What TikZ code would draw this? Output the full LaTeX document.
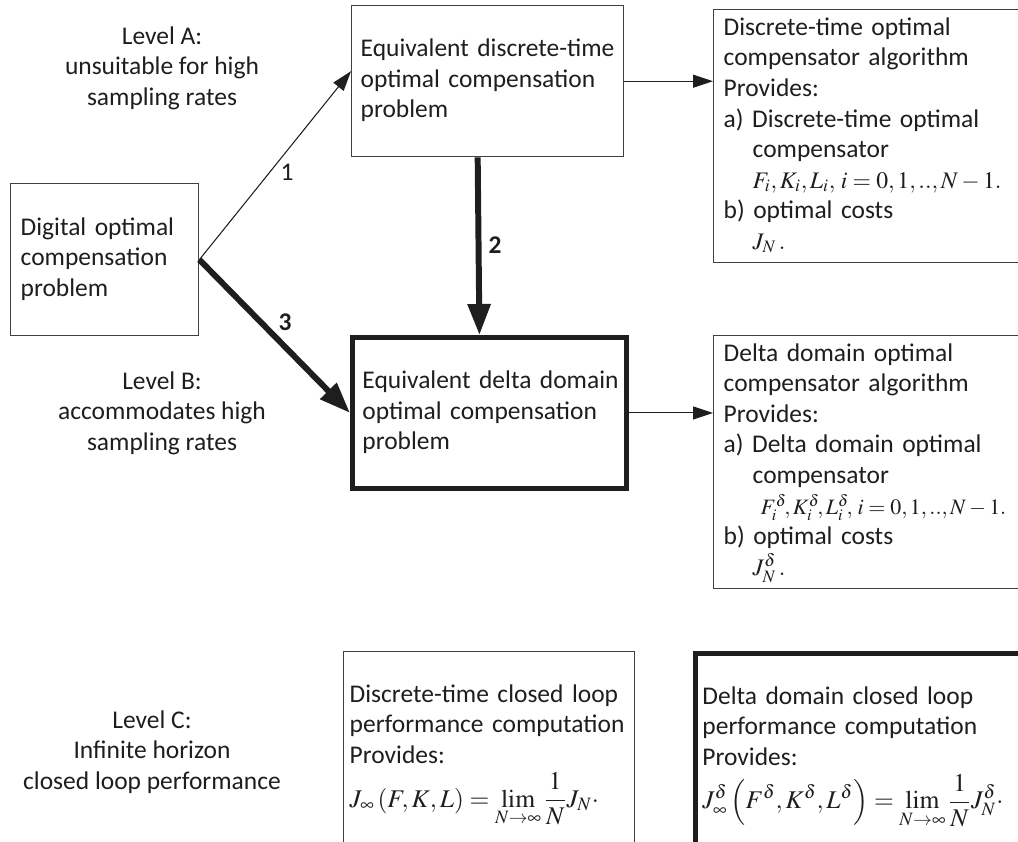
\documentclass[tikz,border=0pt]{standalone}
\usepackage{amsmath}
\usepackage{mathptmx}
\usepackage{fontspec}
\setmainfont{Carlito}
\usepackage{xcolor}
\usetikzlibrary{arrows.meta, calc, positioning}
\definecolor{Ink}{HTML}{1E1E1E}
\newcommand{\mainsize}{\fontsize{14.5pt}{17.4pt}\selectfont}
\newcommand{\indentb}{\hspace*{0.58cm}}
\newcommand{\boxlines}[1]{\begin{tabular}{@{}l@{}}#1\end{tabular}}
\newcommand{\mathline}[2]{{\fontsize{#1}{17.4pt}\selectfont #2}}
\tikzset{
  box/.style={draw=Ink!85, line width=0.8pt, align=left, anchor=north west, inner ysep=0pt, font=\mainsize, text=Ink},
  heavybox/.style={box, draw=Ink, line width=2.8pt},
  link/.style={-{Triangle[length=0.4cm, width=0.26cm]}, line width=0.6pt, color=Ink},
  heavylink/.style={-{Triangle[length=0.62cm, width=0.44cm]}, line width=3.4pt, color=Ink},
  level/.style={align=center, font=\mainsize, color=Ink},
  tag/.style={font=\mainsize, color=Ink},
}

\begin{document}
\begin{tikzpicture}[x=0.02cm, y=-0.02cm]
  \useasboundingbox (0,0) rectangle (1018,842);
  \clip (0,0) rectangle (1018,842);

  % Level captions
  \node[level] (levA) at (162,68) {Level A:\\unsuitable for high\\sampling rates};
  \node[level] (levB) at (162,413) {Level B:\\accommodates high\\sampling rates};
  \node[level] (levC) at (152,752) {Level C:\\Infinite horizon\\closed loop performance};

  % Problem boxes
  \node[box, inner xsep=0.2cm, text width=3.36cm, minimum height=3.04cm] (dig) at (10,183)
    {\boxlines{Digital optimal\\compensation\\problem}};
  \node[box, inner xsep=0.18cm, text width=5.08cm, minimum height=3.02cm] (disc) at (351,5)
    {\boxlines{Equivalent discrete-time\\optimal compensation\\problem}};
  \node[heavybox, inner xsep=0.2cm, text width=5.08cm, minimum height=3.02cm] (delta) at (350,335)
    {\boxlines{Equivalent delta domain\\optimal compensation\\problem}};

  % Algorithm boxes
  \node[box, inner xsep=0.2cm, text width=6.0cm, minimum height=5.06cm] (algA) at (713,9)
    {\boxlines{Discrete-time optimal\\compensator algorithm\\Provides:\\a) Discrete-time optimal\\\indentb compensator\\\indentb \mathline{13.5pt}{$F_i, K_i, L_i,\, i=0,1,..,N-1.$}\\b) optimal costs\\\indentb \mathline{13.5pt}{$J_N\,.$}}};
  \node[box, inner xsep=0.2cm, text width=6.0cm, minimum height=5.06cm] (algB) at (713,335)
    {\boxlines{Delta domain optimal\\compensator algorithm\\Provides:\\a) Delta domain optimal\\\indentb compensator\\\indentb\hspace*{0.16cm}\mathline{12.5pt}{$F_i^\delta\!, K_i^\delta\!, L_i^\delta\!,\, i=0,1,..,N-1.$}\\b) optimal costs\\\indentb \mathline{13.5pt}{$J_N^\delta\,.$}}};

  % Performance boxes
  \node[box, inner xsep=0.12cm, text width=5.58cm, minimum height=4.08cm] (perfA) at (343,651)
    {\boxlines{Discrete-time closed loop\\performance computation\\Provides:\\$\displaystyle J_\infty\left(F,K,L\right)=\lim_{N\to\infty}\frac{1}{N}J_N\cdot$}};
  \node[heavybox, inner xsep=0.14cm, text width=6.6cm, minimum height=4.08cm] (perfB) at (693,651)
    {\boxlines{Delta domain closed loop\\performance computation\\Provides:\\$\displaystyle J_\infty^\delta\left(F^\delta,K^\delta,L^\delta\right)=\lim_{N\to\infty}\frac{1}{N}J_N^\delta\cdot$}};

  % Connectors
  \draw[link] (dig.east) -- ([yshift=0.2cm]disc.west);
  \draw[heavylink] (dig.east) -- (delta.west);
  \draw[heavylink] ([xshift=-0.2cm]disc.south) -- ([xshift=-0.2cm]delta.north);
  \draw[link] (disc.east) -- (disc.east -| algA.west);
  \draw[link] (delta.east) -- (delta.east -| algB.west);

  \node[tag] (lab1) at (287,172) {1};
  \node[tag, font=\mainsize\bfseries] (lab2) at (495,245) {2};
  \node[tag, font=\mainsize\bfseries] (lab3) at (285,322) {3};
\end{tikzpicture}
\end{document}
